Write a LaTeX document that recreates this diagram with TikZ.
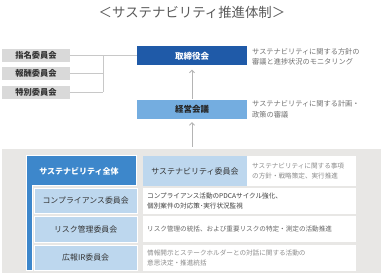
\documentclass[tikz,border=0pt]{standalone}
\usepackage{fontspec}
\setmainfont{Noto Sans CJK JP}
\usetikzlibrary{arrows.meta}
\definecolor{dblue}{HTML}{1F5AA8}
\definecolor{mblue}{HTML}{3D87CB}
\definecolor{kblue}{HTML}{74ADE0}
\definecolor{lblue}{HTML}{BDD7EE}
\definecolor{gbox}{HTML}{D9D9D9}
\definecolor{panelgray}{HTML}{E8E7E5}
\definecolor{linegray}{HTML}{C8C8C8}
\definecolor{txtgray}{HTML}{707070}
\begin{document}
\begin{tikzpicture}[x=1pt,y=-1pt,
  lbox/.style={fill=gbox, minimum width=68pt, minimum height=13pt, inner sep=0pt,
    font=\fontsize{8.3}{10}\selectfont\bfseries, text=black!80},
  topbox/.style={minimum width=110pt, minimum height=19pt, inner sep=0pt,
    font=\fontsize{8.5}{10}\selectfont\bfseries},
  desc/.style={anchor=west, align=left, inner sep=0pt, text=txtgray,
    font=\fontsize{7.2}{10.5}\selectfont},
  lrow/.style={fill=lblue, draw=white, line width=0.6pt, minimum width=102.7pt,
    minimum height=25.5pt, inner sep=0pt, text=black!80,
    font=\fontsize{7.9}{10}\selectfont},
  wrow/.style={fill=white, minimum width=213pt, minimum height=25.5pt, inner sep=0pt},
  rdesc/.style={anchor=west, align=left, inner sep=0pt,
    font=\fontsize{6.6}{9.5}\selectfont},
  conn/.style={draw=linegray, line width=0.8pt},
  arr/.style={draw=linegray!90!black, line width=0.8pt, -{Straight Barb[length=2.5pt,width=5pt]}}
]
\useasboundingbox (0,0) rectangle (382,275);

% title
\node[font=\fontsize{13.4}{15}\selectfont, text=black!65] (title) at (192,12) {＜サステナビリティ推進体制＞};

% left committees
\node[lbox] (b1) at (36,55.5) {指名委員会};
\node[lbox] (b2) at (36,73.5) {報酬委員会};
\node[lbox] (b3) at (36,92.5) {特別委員会};

% board
\node[topbox, fill=dblue, text=white] (tb) at (192,56) {取締役会};
\node[desc] (tbd) at (252,57) {サステナビリティに関する方針の\\審議と進捗状況のモニタリング};

% management
\node[topbox, fill=kblue, text=black!85] (km) at (192,109.5) {経営会議};
\node[desc] (kmd) at (252,109.5) {サステナビリティに関する計画・\\政策の審議};

% connectors
\coordinate (j) at (103,73.5);
\draw[conn] (b1.east) -- (tb.west |- b1.east);
\draw[conn] (b2.east) -- (b2.east -| j);
\draw[conn] (b3.east) -- (b3.east -| j);
\draw[conn] (b1.east -| j) -- (b3.east -| j);

% bottom panel
\fill[panelgray] (2,149) rectangle (381,273);
\coordinate (ptop) at (192,147);
\draw[arr, shorten <=1pt, shorten >=4pt] (km.north) -- (tb.south);
\draw[arr, shorten >=3pt] (ptop) -- (km.south);

% blue L shape
\path[fill=mblue, draw=white, line width=0.7pt]
  (26.7,155) -- (136.7,155) -- (136.7,185.7) -- (32.3,185.7) -- (32.3,270.7) -- (26.7,270.7) -- cycle;
\node[text=white, font=\fontsize{8}{10}\selectfont\bfseries] (all) at (79,171) {サステナビリティ全体};

% row 1
\node[fill=lblue, minimum width=104pt, minimum height=30pt, inner sep=0pt,
  text=black!80, font=\fontsize{8}{10}\selectfont] (sc) at (195,171) {サステナビリティ委員会};
\node[fill=white, minimum width=109pt, minimum height=30pt, inner sep=0pt] (scw) at (301.5,171) {};
\node[rdesc, text=black!45] (scd) at (252,171) {サステナビリティに関する事項\\の方針・戦略策定、実行推進};

% row 2
\node[lrow] (c2) at (85.65,200.75) {コンプライアンス委員会};
\node[wrow] (w2) at (249.5,200.75) {};
\node[rdesc, text=black!75] (d2) at (147,200.75) {コンプライアンス活動のPDCAサイクル強化、\\個別案件の対応策･実行状況監視};

% row 3
\node[lrow] (c3) at (85.65,229.2) {リスク管理委員会};
\node[wrow] (w3) at (249.5,229.2) {};
\node[rdesc, text=black!60] (d3) at (147,229.2) {リスク管理の統括、および重要リスクの特定・測定の活動推進};

% row 4
\node[lrow] (c4) at (85.65,257.75) {広報IR委員会};
\node[wrow] (w4) at (249.5,257.75) {};
\node[rdesc, text=black!45] (d4) at (147,257.75) {情報開示とステークホルダーとの対話に関する活動の\\意思決定・推進統括};
\end{tikzpicture}
\end{document}
